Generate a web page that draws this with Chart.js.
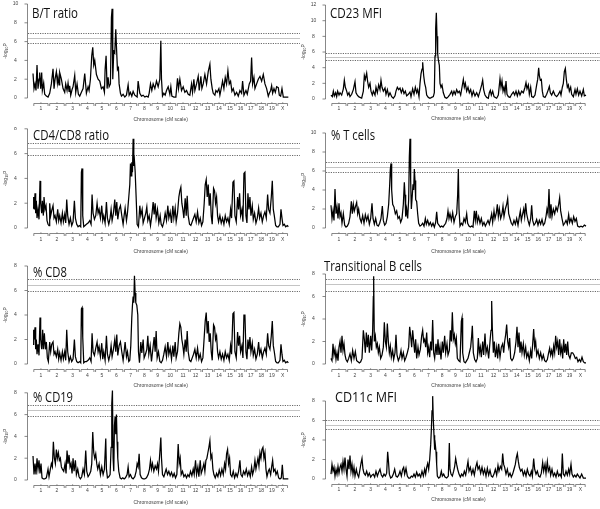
<!DOCTYPE html>
<html>
<head>
<meta charset="utf-8">
<script src="https://cdn.jsdelivr.net/npm/chart.js@4.4.0/dist/chart.umd.min.js"></script>
<style>
  body { margin: 0; background: #fff; width: 600px; height: 509px; position: relative; overflow: hidden; }
  canvas { position: absolute; }
</style>
</head>
<body>
<canvas id="c1" width="300" height="136" style="left:0;top:0"></canvas>
<canvas id="c2" width="300" height="136" style="left:300px;top:0"></canvas>
<canvas id="c3" width="300" height="136" style="left:0;top:127px"></canvas>
<canvas id="c4" width="300" height="136" style="left:300px;top:127px"></canvas>
<canvas id="c5" width="300" height="136" style="left:0;top:254px"></canvas>
<canvas id="c6" width="300" height="136" style="left:300px;top:254px"></canvas>
<canvas id="c7" width="300" height="136" style="left:0;top:381px"></canvas>
<canvas id="c8" width="300" height="136" style="left:300px;top:381px"></canvas>
<script>
// chromosomes and their lengths on the shared genome axis
const chromosomes = ['1','2','3','4','5','6','7','8','9','10','11','12','13','14','15','16','17','18','19','X'];
const chrLengths = [47.5,48.5,45.5,43.5,43.5,43,41.5,41,38.5,37.5,39,36.5,35,33.5,32,31,31.5,31.5,31.5,33.5];

// genome scans: [position, -log10 P]
const btRatio = [[0,2.6],[3,1.0],[6,1.5],[9,0.8],[12,3.5],[15,1.0],[18,2.0],[20,2.7],[23,1.0],[26,2.7],[28,0.8],[32,1.6],[35,0.4],[40,0.2],[45,0.1],[50,0.5],[55,1.5],[60,3.1],[63,1.0],[66,2.0],[70,2.8],[73,1.6],[75,2.2],[78,1.4],[80,2.7],[85,2.0],[90,1.0],[95,0.6],[98,1.5],[102,0.8],[105,1.6],[108,0.7],[110,1.3],[113,0.3],[117,0.9],[120,1.2],[125,2.4],[128,0.6],[132,1.5],[136,0.4],[140,0.2],[145,0.6],[150,1.0],[155,2.6],[160,0.5],[165,1.2],[168,0.8],[172,2.0],[176,4.5],[179,5.4],[182,3.5],[185,4.0],[190,2.5],[195,2.0],[200,1.8],[205,1.0],[210,1.2],[214,0.6],[216,3.0],[219,4.5],[222,1.0],[225,2.2],[228,1.2],[232,1.5],[235,8.6],[237,9.5],[239,2.0],[242,5.0],[245,4.8],[248,7.3],[250,5.5],[253,3.0],[256,3.2],[258,1.5],[262,0.5],[265,0.2],[270,0.4],[275,0.1],[280,0.3],[285,1.4],[288,0.3],[292,0.6],[296,0.2],[300,0.7],[305,0.3],[312,0.1],[315,1.8],[320,0.5],[325,0.2],[330,0.3],[335,0.1],[340,0.2],[345,0.1],[348,0.5],[352,1.5],[356,0.8],[360,1.5],[365,1.0],[370,1.8],[375,1.2],[380,2.0],[383,6.1],[385,2.0],[388,0.2],[392,0.5],[396,0.3],[400,0.8],[405,1.2],[410,0.4],[413,1.2],[416,0.2],[422,0.1],[428,0.1],[433,2.1],[436,1.0],[440,2.0],[445,0.8],[450,1.2],[455,0.6],[460,0.8],[465,0.4],[470,0.3],[475,1.5],[478,0.6],[482,2.0],[485,0.8],[490,1.5],[495,2.3],[498,0.8],[503,2.3],[506,1.0],[510,1.5],[515,2.5],[520,1.5],[525,2.8],[530,3.6],[533,2.0],[537,1.0],[540,0.5],[545,0.3],[548,0.8],[552,0.6],[557,1.0],[560,0.3],[565,1.2],[568,1.8],[572,1.0],[576,2.2],[580,1.5],[584,2.9],[588,1.5],[592,1.8],[596,0.7],[600,1.0],[605,0.3],[610,0.6],[615,0.2],[620,0.8],[625,0.5],[628,1.8],[632,0.3],[638,0.8],[642,0.4],[648,1.5],[652,1.8],[655,4.3],[658,1.5],[662,2.2],[665,1.0],[670,1.5],[675,2.0],[680,2.3],[685,1.8],[690,2.5],[695,1.5],[700,1.0],[705,0.2],[708,0.5],[712,0.8],[715,1.3],[718,0.5],[722,1.0],[726,0.6],[730,1.2],[735,1.1],[738,0.3],[742,0.2],[746,1.0],[750,0.1],[765,0.1]];

const cd23Mfi = [[0,0.5],[4,0.3],[7,1.0],[10,0.4],[14,0.8],[17,0.3],[20,1.0],[24,0.5],[27,0.8],[32,0.5],[37,1.3],[40,2.4],[43,1.5],[47,1.0],[50,0.5],[54,0.8],[57,0.3],[62,0.6],[67,1.2],[72,2.2],[75,0.8],[79,0.5],[83,0.3],[87,0.2],[92,0.1],[97,1.0],[100,3.0],[103,2.5],[107,3.3],[110,2.2],[113,1.5],[117,2.0],[120,1.0],[124,0.5],[127,1.0],[132,0.5],[135,1.5],[139,0.8],[143,1.8],[147,1.2],[150,2.4],[153,1.5],[157,1.0],[162,1.4],[165,0.6],[169,1.2],[173,0.4],[177,0.8],[182,0.3],[187,0.1],[192,0.4],[195,1.0],[199,1.5],[203,1.2],[207,1.4],[211,0.8],[215,1.3],[219,0.7],[223,1.0],[227,0.4],[232,0.6],[237,0.9],[240,0.3],[245,1.3],[249,0.6],[253,1.5],[257,0.8],[260,1.2],[264,0.3],[267,2.0],[270,3.2],[273,3.8],[275,4.7],[278,3.0],[281,2.0],[284,1.5],[287,0.5],[292,0.2],[297,0.1],[302,0.2],[307,0.3],[310,0.8],[312,5.5],[314,9.0],[316,11.0],[318,8.0],[320,5.8],[322,5.0],[325,4.3],[327,2.0],[330,1.5],[333,1.8],[337,0.8],[342,0.2],[347,0.1],[352,0.3],[357,0.6],[362,1.0],[365,0.5],[369,1.0],[373,0.6],[377,1.2],[381,0.8],[385,1.0],[389,0.5],[393,1.5],[397,2.5],[400,1.5],[403,2.0],[407,1.0],[411,1.5],[415,0.8],[419,1.2],[423,0.4],[427,1.0],[432,0.4],[437,0.8],[442,0.3],[447,1.0],[452,1.8],[455,2.4],[458,1.2],[462,0.5],[467,0.2],[472,0.1],[475,0.8],[478,1.1],[481,0.5],[485,1.0],[489,0.3],[493,0.2],[497,0.1],[502,0.5],[507,2.6],[510,1.5],[513,2.3],[516,1.0],[519,1.5],[522,0.8],[525,2.3],[528,0.6],[532,0.3],[537,0.2],[542,0.6],[547,0.9],[551,0.5],[555,1.0],[559,0.4],[563,1.0],[567,0.5],[572,1.0],[577,0.8],[582,1.5],[585,2.1],[588,1.3],[592,1.8],[595,0.6],[599,1.5],[602,0.3],[607,0.2],[612,0.5],[617,1.8],[620,2.5],[623,4.0],[625,3.0],[628,2.4],[631,2.5],[634,1.0],[637,0.3],[642,0.2],[647,0.6],[652,1.2],[655,1.6],[658,0.8],[662,0.5],[667,1.0],[672,0.5],[677,0.3],[682,0.6],[687,1.0],[690,0.5],[694,1.5],[697,2.0],[700,3.5],[703,3.9],[706,2.5],[709,1.5],[712,1.8],[715,1.0],[719,1.5],[722,0.6],[727,0.3],[732,1.2],[735,0.6],[739,1.3],[743,0.5],[747,1.0],[752,0.4],[757,1.2],[760,0.4],[765,0.5]];

const cd4cd8Ratio = [[0,1.6],[2,2.5],[4,1.5],[6,2.8],[8,1.2],[10,2.2],[12,0.8],[15,1.5],[18,0.7],[21,3.8],[23,2.0],[26,1.2],[28,2.2],[31,1.0],[33,2.5],[36,1.5],[39,1.8],[42,0.6],[45,0.3],[48,0.2],[50,2.0],[53,1.0],[56,1.4],[60,1.8],[63,0.8],[66,1.0],[70,0.5],[74,1.5],[77,0.6],[80,1.0],[84,0.4],[88,1.2],[91,0.5],[95,1.1],[98,0.4],[101,2.3],[104,1.0],[108,0.3],[112,0.8],[116,0.2],[120,0.5],[124,2.2],[127,0.8],[131,0.3],[135,0.1],[139,0.2],[143,0.1],[145,4.5],[147,4.8],[149,1.0],[152,0.1],[156,0.2],[160,0.3],[165,0.4],[170,0.6],[174,0.3],[177,2.7],[180,1.2],[184,0.7],[188,1.0],[192,2.0],[195,1.2],[198,1.5],[202,0.8],[206,1.8],[209,0.6],[212,1.0],[216,0.4],[220,2.1],[223,0.8],[227,0.3],[231,0.8],[234,1.5],[237,0.6],[241,1.2],[245,2.3],[248,1.0],[251,2.1],[254,0.7],[258,1.5],[262,1.8],[266,1.0],[270,0.3],[273,1.0],[276,1.6],[280,0.6],[283,1.2],[287,2.5],[290,3.5],[292,5.2],[294,4.2],[296,5.3],[298,4.5],[300,7.2],[302,5.0],[304,5.4],[306,4.6],[309,2.5],[312,0.3],[316,0.1],[320,1.8],[323,1.0],[327,1.5],[330,0.4],[334,0.8],[338,1.2],[341,1.7],[344,0.6],[348,1.0],[352,0.2],[356,1.0],[360,2.1],[363,1.1],[366,2.0],[369,0.8],[373,1.5],[377,0.4],[381,1.0],[384,0.3],[388,0.1],[392,0.5],[396,1.2],[400,0.6],[404,1.8],[407,0.8],[411,1.3],[415,0.4],[419,1.8],[422,0.8],[426,1.6],[429,0.5],[433,1.2],[437,2.5],[440,3.0],[443,3.3],[446,2.0],[449,1.5],[452,0.8],[456,2.4],[459,1.0],[462,2.6],[465,1.0],[469,0.3],[473,0.2],[477,0.5],[481,0.8],[485,1.1],[489,0.5],[493,1.3],[497,0.4],[501,0.8],[505,0.2],[509,0.5],[513,2.0],[516,3.5],[519,3.9],[522,2.5],[525,3.5],[528,1.8],[531,2.8],[534,1.0],[537,0.3],[541,3.2],[544,3.0],[547,2.0],[550,2.5],[553,1.0],[556,0.5],[560,1.0],[564,0.4],[568,0.8],[572,0.3],[576,1.0],[580,0.5],[584,0.8],[588,0.3],[592,1.5],[595,0.8],[599,3.7],[602,3.8],[605,1.0],[609,0.5],[613,2.5],[616,1.5],[619,2.8],[622,1.0],[626,1.5],[629,0.5],[632,4.4],[635,4.5],[638,1.0],[641,0.4],[644,2.8],[647,1.5],[650,2.5],[653,1.0],[657,1.8],[660,0.7],[664,1.2],[668,0.4],[672,0.8],[676,1.6],[679,0.8],[683,1.2],[687,0.5],[691,1.0],[695,1.3],[699,0.8],[703,2.7],[706,1.5],[710,1.2],[714,2.5],[717,3.8],[720,1.5],[723,1.0],[727,0.2],[731,0.1],[735,0.1],[740,0.3],[743,1.5],[746,0.8],[749,0.2],[753,0.3],[757,0.1],[762,0.2],[765,0.1]];

const tCells = [[0,2.4],[3,1.0],[6,1.8],[9,0.8],[12,4.1],[15,1.5],[18,2.2],[21,1.0],[24,2.6],[27,1.2],[30,1.6],[33,0.5],[37,1.5],[41,0.3],[45,0.1],[49,0.2],[53,0.5],[57,1.2],[61,2.8],[64,1.5],[67,2.5],[70,1.8],[73,2.2],[77,2.7],[80,1.5],[83,2.0],[87,1.0],[91,0.6],[95,1.3],[99,0.5],[103,1.4],[107,0.8],[111,1.3],[115,0.4],[119,1.0],[123,2.6],[126,1.0],[130,0.4],[134,1.0],[138,0.3],[142,0.2],[146,0.5],[150,1.0],[154,2.3],[157,0.8],[161,0.3],[165,0.5],[169,1.2],[173,2.5],[176,4.5],[178,6.2],[180,6.8],[182,4.0],[185,2.5],[189,2.2],[193,1.5],[197,1.8],[201,1.0],[205,1.2],[209,0.6],[213,1.0],[217,2.5],[220,4.8],[222,3.5],[224,1.2],[227,2.0],[230,1.0],[233,3.0],[235,7.5],[237,9.4],[239,5.0],[241,2.0],[244,3.5],[246,4.6],[248,4.0],[250,6.2],[252,5.0],[254,3.0],[257,2.8],[260,1.5],[263,0.5],[267,0.2],[271,0.3],[275,0.5],[279,0.2],[283,1.0],[286,0.4],[290,0.8],[294,0.3],[298,0.6],[302,0.2],[306,0.5],[310,0.1],[314,0.6],[317,1.7],[320,0.5],[324,0.3],[328,0.1],[332,0.2],[336,0.1],[340,0.3],[344,0.5],[348,1.0],[351,1.8],[354,1.0],[357,1.5],[361,0.8],[365,1.6],[369,0.6],[373,1.2],[377,1.5],[380,3.5],[382,6.2],[384,2.0],[387,0.2],[391,0.5],[395,0.3],[399,1.0],[403,0.6],[407,1.5],[410,0.5],[414,0.2],[418,0.1],[422,0.2],[426,0.1],[430,1.8],[433,0.8],[436,1.8],[439,0.6],[443,1.2],[447,0.5],[451,1.0],[455,0.3],[459,0.6],[463,0.2],[467,0.5],[471,0.8],[475,0.4],[479,1.0],[482,1.5],[485,0.6],[489,1.8],[492,1.0],[496,1.6],[499,2.5],[502,1.2],[505,2.0],[509,1.0],[513,1.5],[516,2.3],[519,1.2],[523,2.0],[527,2.5],[530,3.1],[533,1.5],[537,1.0],[541,0.5],[545,0.3],[549,0.8],[553,0.4],[557,1.0],[561,0.3],[565,1.2],[568,1.8],[571,0.8],[575,1.5],[578,2.0],[581,1.2],[584,2.6],[587,1.5],[591,0.8],[595,0.3],[599,1.0],[602,2.4],[605,0.8],[609,0.3],[613,0.5],[617,0.9],[621,0.3],[625,0.8],[629,0.4],[633,0.9],[637,0.3],[641,0.5],[645,1.2],[648,2.0],[651,1.5],[654,4.1],[657,1.0],[660,2.5],[663,1.2],[667,2.0],[671,1.5],[675,2.2],[679,1.8],[683,2.5],[686,3.2],[689,1.8],[693,1.0],[697,0.3],[701,0.5],[705,0.8],[709,0.4],[713,1.4],[716,0.6],[720,1.0],[724,0.5],[728,1.2],[732,0.7],[736,1.0],[740,0.2],[745,0.1],[750,0.2],[755,0.1],[760,0.3],[765,0.2]];

const cd8Pct = [[0,1.6],[2,2.8],[4,2.0],[6,3.0],[8,1.2],[10,2.0],[12,0.8],[15,1.6],[18,0.7],[21,3.8],[23,2.0],[26,1.2],[29,2.8],[31,1.2],[34,2.5],[37,1.2],[40,1.8],[43,0.5],[46,0.2],[50,1.8],[53,1.0],[56,1.6],[60,1.8],[63,0.8],[66,1.0],[70,0.6],[74,1.2],[77,0.4],[80,0.9],[84,0.3],[88,1.0],[91,0.4],[95,1.0],[98,0.3],[101,2.8],[104,1.0],[108,0.2],[112,0.6],[116,0.2],[120,0.4],[124,2.0],[127,0.6],[131,0.2],[135,0.1],[140,0.2],[143,0.1],[145,4.5],[147,4.6],[149,2.2],[152,0.1],[156,0.2],[160,0.2],[165,0.3],[170,0.5],[174,0.2],[177,2.5],[180,1.0],[184,0.7],[188,1.3],[192,1.8],[195,1.0],[198,1.4],[202,0.6],[206,1.7],[209,0.4],[212,1.0],[216,0.3],[220,2.3],[223,0.8],[227,0.3],[231,0.8],[234,1.5],[237,0.6],[241,1.2],[245,2.0],[248,1.0],[251,2.4],[254,0.7],[258,1.5],[262,1.8],[266,1.0],[270,0.3],[273,1.0],[276,1.8],[280,0.6],[283,1.0],[287,0.2],[290,0.3],[293,1.5],[296,3.8],[298,4.8],[300,5.5],[302,5.0],[304,7.2],[306,5.8],[308,5.0],[311,4.8],[314,4.0],[316,1.0],[319,0.1],[323,1.8],[326,0.9],[330,2.0],[333,0.5],[337,0.8],[341,1.2],[344,2.3],[347,0.8],[351,1.5],[355,0.2],[359,1.2],[363,2.2],[366,1.0],[369,2.7],[372,0.5],[376,1.0],[380,0.2],[384,0.1],[388,0.3],[392,0.8],[396,1.4],[400,0.6],[404,1.8],[407,0.8],[411,1.3],[415,0.4],[419,1.5],[422,0.6],[426,1.8],[429,0.5],[433,1.0],[437,2.5],[440,3.3],[443,3.0],[446,2.0],[449,1.5],[452,0.8],[456,2.0],[459,1.0],[462,2.7],[465,1.0],[469,0.3],[473,0.2],[477,0.5],[481,0.8],[485,1.2],[489,0.5],[493,1.3],[497,0.4],[501,0.8],[505,0.2],[509,0.5],[513,2.2],[516,3.5],[519,4.2],[522,2.5],[525,3.5],[528,1.8],[531,2.5],[534,1.0],[537,0.3],[541,3.2],[544,3.0],[547,2.0],[550,2.3],[553,1.0],[556,0.5],[560,1.0],[564,0.4],[568,0.8],[572,0.3],[576,1.0],[580,0.5],[584,0.8],[588,0.3],[592,1.5],[595,0.8],[599,4.1],[602,4.2],[605,1.0],[609,0.5],[613,2.6],[616,1.5],[619,2.3],[622,1.0],[626,1.5],[629,0.5],[632,4.0],[635,4.0],[638,1.0],[641,0.4],[644,2.0],[647,1.2],[650,2.2],[653,1.0],[657,1.7],[660,0.7],[664,1.2],[668,0.4],[672,0.8],[676,1.8],[679,0.8],[683,1.2],[687,0.5],[691,1.0],[695,1.3],[699,0.8],[703,2.5],[706,1.5],[710,1.2],[714,2.3],[717,3.5],[720,1.5],[723,1.0],[727,0.2],[731,0.1],[735,0.1],[740,0.3],[743,1.6],[746,0.8],[749,0.2],[753,0.3],[757,0.1],[762,0.2],[765,0.1]];

const transitionalB = [[0,0.5],[3,0.3],[6,1.8],[9,0.8],[12,1.3],[15,0.4],[18,1.0],[21,0.3],[24,1.5],[27,2.0],[30,1.0],[33,2.5],[36,1.2],[39,1.8],[42,0.8],[45,0.4],[49,0.2],[53,0.5],[57,0.9],[61,0.3],[65,1.2],[69,0.5],[73,1.1],[77,0.3],[81,0.2],[85,0.1],[89,0.2],[93,0.5],[97,3.0],[100,2.2],[103,1.0],[106,2.8],[109,1.5],[112,2.6],[115,1.0],[119,2.5],[122,1.2],[125,3.0],[127,6.0],[128,7.8],[130,2.0],[133,2.5],[136,1.5],[139,1.8],[142,1.0],[145,1.5],[149,0.5],[153,0.8],[157,1.5],[160,3.7],[163,2.0],[166,1.5],[169,3.6],[172,2.0],[175,1.0],[178,1.6],[181,0.6],[185,1.2],[188,0.4],[192,1.0],[195,2.6],[198,0.8],[202,0.3],[206,0.6],[210,1.2],[213,0.5],[217,1.0],[221,0.3],[225,0.6],[229,1.0],[233,1.5],[236,3.3],[239,2.5],[242,1.5],[245,3.0],[248,2.0],[251,1.0],[254,2.2],[257,0.5],[261,1.5],[264,0.8],[268,1.3],[272,2.5],[275,3.0],[278,2.0],[281,2.2],[284,1.5],[287,2.8],[290,1.0],[293,1.5],[296,0.6],[299,2.0],[302,1.2],[305,3.9],[308,1.0],[311,0.5],[315,1.8],[318,0.8],[321,2.2],[324,0.8],[327,1.5],[330,0.4],[334,2.0],[337,1.0],[341,2.5],[344,1.0],[348,1.8],[351,0.8],[355,1.2],[358,3.0],[361,2.0],[364,4.6],[367,2.2],[370,2.6],[373,1.8],[376,2.3],[379,0.5],[383,0.3],[387,0.2],[391,3.8],[393,4.1],[395,1.0],[399,0.2],[403,0.1],[407,0.3],[411,0.5],[415,1.0],[419,1.5],[422,2.5],[424,3.4],[427,1.0],[431,0.4],[435,0.2],[439,0.5],[442,2.3],[445,1.0],[448,1.5],[451,0.6],[455,2.0],[458,0.8],[462,2.7],[465,1.0],[469,1.5],[473,0.5],[477,2.0],[480,3.0],[482,5.6],[484,3.2],[487,1.0],[490,2.0],[493,0.6],[497,1.5],[500,0.5],[503,1.8],[507,0.6],[511,1.5],[515,1.8],[518,1.0],[521,2.0],[524,2.6],[527,3.5],[530,2.0],[533,1.5],[536,2.3],[539,0.5],[543,0.3],[547,0.5],[551,1.0],[555,2.0],[558,3.3],[561,1.5],[564,2.8],[567,1.0],[570,2.0],[573,1.0],[577,1.8],[580,0.8],[584,1.5],[587,0.6],[591,1.0],[595,0.3],[599,1.2],[602,0.5],[605,1.8],[608,3.1],[611,1.5],[614,2.0],[617,0.8],[621,1.2],[625,0.5],[629,1.0],[633,0.4],[637,0.8],[641,0.3],[645,0.2],[649,0.4],[653,1.0],[656,1.4],[659,0.8],[662,1.2],[665,0.7],[668,1.6],[671,1.0],[674,2.5],[677,1.5],[680,2.0],[683,0.8],[686,2.2],[689,1.0],[692,1.5],[695,0.5],[698,2.2],[701,1.0],[704,1.8],[707,0.8],[710,2.0],[713,0.8],[717,0.5],[721,1.0],[725,1.0],[729,0.8],[733,0.5],[737,0.6],[741,0.2],[745,0.4],[749,0.2],[753,0.6],[757,0.2],[761,0.1],[765,0.1]];

const cd19Pct = [[0,2.2],[3,0.5],[6,1.5],[9,0.5],[12,2.0],[15,1.0],[18,1.8],[21,0.6],[24,1.5],[27,0.2],[31,0.1],[35,0.1],[40,0.2],[45,1.0],[48,0.3],[52,1.0],[55,1.5],[58,1.2],[61,3.5],[64,2.0],[67,1.5],[70,2.8],[73,2.0],[76,2.5],[79,1.8],[82,2.0],[85,1.2],[88,1.0],[92,0.8],[96,1.5],[99,0.6],[102,2.7],[105,1.5],[108,2.3],[111,1.2],[114,1.5],[117,0.6],[120,2.0],[123,0.8],[127,1.8],[130,0.5],[134,1.0],[138,0.3],[142,0.1],[146,0.3],[150,1.0],[154,0.5],[158,2.7],[161,0.8],[165,0.3],[169,0.5],[173,0.8],[176,1.5],[179,4.4],[182,2.5],[185,2.0],[188,2.4],[191,1.5],[194,1.0],[198,1.5],[202,0.5],[206,1.2],[210,0.5],[214,1.0],[218,3.8],[220,1.0],[223,0.2],[227,0.3],[231,0.5],[234,3.0],[236,7.0],[238,8.2],[240,2.0],[242,0.8],[244,5.0],[246,5.8],[248,4.2],[250,6.0],[252,3.5],[254,2.0],[257,0.8],[261,0.2],[265,0.1],[269,0.2],[273,0.1],[277,0.2],[282,0.5],[285,1.2],[288,0.3],[292,0.5],[296,0.2],[300,0.1],[305,0.3],[309,0.8],[312,1.5],[315,1.2],[318,2.4],[321,0.5],[325,0.2],[330,0.1],[335,0.1],[340,0.2],[345,0.5],[349,1.0],[352,1.8],[355,1.0],[358,1.5],[362,0.8],[366,1.3],[370,1.0],[373,1.5],[376,0.8],[380,2.5],[383,3.9],[385,2.0],[388,0.5],[392,0.3],[395,0.6],[399,1.0],[403,0.5],[407,0.8],[411,0.4],[415,0.7],[419,0.3],[423,0.6],[427,0.2],[431,0.5],[435,3.3],[438,1.5],[441,2.0],[444,0.5],[448,0.8],[452,0.3],[456,0.5],[460,0.2],[464,0.5],[468,0.3],[472,0.8],[476,0.4],[480,1.0],[483,0.5],[487,1.8],[490,0.5],[494,1.2],[497,0.3],[501,1.8],[504,0.6],[508,1.0],[512,1.5],[515,0.8],[518,1.8],[521,2.0],[524,2.5],[527,3.0],[530,3.6],[533,2.0],[536,2.3],[539,1.0],[542,0.5],[546,0.2],[550,0.6],[554,0.3],[558,0.9],[562,0.4],[566,1.0],[570,0.5],[574,1.5],[577,1.0],[580,2.4],[583,2.8],[586,1.5],[589,2.0],[592,0.5],[596,0.3],[600,0.8],[604,0.2],[608,0.6],[612,0.3],[616,0.8],[620,1.8],[623,0.5],[627,0.3],[631,0.8],[635,0.5],[639,1.0],[643,0.4],[647,0.8],[651,0.3],[655,1.2],[658,0.5],[662,1.0],[665,1.8],[668,1.0],[671,1.5],[674,2.0],[677,1.3],[680,2.5],[683,2.0],[686,2.8],[689,3.0],[692,2.0],[695,2.5],[698,1.0],[701,0.3],[705,0.8],[708,1.0],[712,0.5],[715,1.2],[718,1.8],[721,0.8],[725,1.0],[728,0.5],[732,0.8],[736,0.2],[740,0.1],[744,0.2],[747,1.4],[750,0.1],[755,0.1],[760,0.1],[765,0.1]];

const cd11cMfi = [[0,0.5],[3,1.5],[6,0.8],[9,1.2],[12,0.3],[15,1.0],[18,0.5],[21,1.3],[24,0.6],[27,1.2],[30,1.5],[33,0.8],[36,1.8],[39,1.0],[42,2.2],[45,1.0],[48,0.3],[51,2.0],[54,1.0],[57,2.4],[60,0.8],[63,1.5],[66,0.5],[69,1.2],[72,0.3],[76,1.0],[79,0.5],[83,0.2],[87,1.0],[90,1.6],[93,2.1],[96,1.0],[99,0.6],[103,0.4],[107,0.8],[111,0.3],[115,0.6],[119,0.2],[123,0.4],[127,0.5],[131,0.2],[135,0.8],[139,0.3],[143,0.7],[147,1.0],[151,0.4],[155,0.2],[159,0.5],[163,0.3],[167,0.6],[170,2.8],[172,2.0],[175,0.5],[179,0.1],[183,0.2],[187,0.5],[191,1.0],[195,0.3],[199,0.2],[203,0.4],[207,0.8],[211,0.3],[215,1.0],[218,1.2],[221,0.5],[225,1.1],[229,0.3],[233,0.1],[237,0.1],[241,0.3],[245,0.2],[249,0.5],[253,0.2],[257,0.7],[261,0.3],[265,0.5],[269,0.2],[273,0.8],[277,0.3],[281,1.0],[284,0.5],[287,1.2],[290,1.6],[293,1.0],[296,2.0],[299,3.5],[301,5.0],[303,7.0],[305,8.5],[307,6.0],[309,4.5],[311,3.0],[313,3.5],[315,2.8],[317,1.5],[319,0.3],[323,0.1],[327,0.2],[331,0.8],[334,0.3],[338,0.5],[342,0.2],[347,0.1],[352,0.3],[355,3.7],[357,1.0],[360,0.5],[364,0.3],[368,0.8],[371,1.3],[374,2.1],[377,1.5],[380,1.0],[384,0.5],[388,0.2],[392,0.5],[396,0.3],[400,0.8],[404,0.4],[408,1.2],[411,1.8],[414,0.8],[418,1.2],[422,0.5],[426,1.0],[430,0.4],[434,1.2],[438,1.7],[441,1.0],[445,1.3],[449,0.6],[453,1.2],[457,0.5],[461,1.0],[465,0.3],[469,1.1],[473,0.4],[477,0.9],[481,0.3],[485,0.2],[489,0.5],[493,1.0],[497,0.4],[501,1.4],[504,0.8],[508,1.3],[512,1.0],[515,2.6],[518,1.5],[521,1.2],[525,0.5],[529,1.0],[533,0.3],[537,0.6],[541,0.2],[545,0.5],[549,1.0],[553,1.5],[556,2.2],[559,2.6],[562,1.8],[565,1.2],[569,0.8],[573,1.0],[577,0.4],[581,0.8],[585,0.3],[589,1.0],[593,0.5],[597,0.3],[601,0.8],[604,0.3],[608,2.1],[611,1.0],[615,0.5],[619,0.8],[623,0.3],[627,0.2],[631,0.6],[635,1.7],[638,0.8],[642,1.5],[645,0.6],[649,1.8],[652,0.8],[656,1.2],[659,0.4],[663,1.0],[667,0.3],[671,0.6],[675,0.2],[679,0.8],[683,0.3],[687,0.5],[691,0.2],[694,2.6],[697,0.5],[701,0.3],[705,0.8],[709,0.4],[713,1.0],[716,0.5],[720,1.5],[723,0.5],[727,0.2],[731,0.4],[735,0.2],[739,0.5],[743,0.3],[747,0.1],[752,0.5],[757,0.1],[765,0.1]];

// significance thresholds (upper dotted, middle, lower dotted)
const btThresholds = [6.9, 6.4, 5.9];
const cd23Thresholds = [5.83, 5.4, 4.97];
const cd4cd8Thresholds = [6.86, 6.43, 5.92];
const tCellThresholds = [6.92, 6.4, 5.87];
const cd8Thresholds = [6.97, 6.42, 5.93];
const transThresholds = [7.6, 7.1, 6.46];
const cd19Thresholds = [6.9, 6.4, 5.9];
const cd11cThresholds = [6.02, 5.55, 5.1];

// y tick labels
const ticks10 = [0, 2, 4, 6, 8, 10];
const ticks12 = [0, 2, 4, 6, 8, 10, 12];
const ticks8 = [0, 2, 4, 6, 8];

const smallFont = '5px "Liberation Sans", Arial, sans-serif';

const genomeAxis = {
    id: 'genomeAxis',
    beforeDatasetsDraw(chart, args, opts) {
        const { ctx, chartArea: a, scales: { y } } = chart;
        ctx.save();
        opts.thresholds.forEach((t, i) => {
            const py = Math.round(y.getPixelForValue(t)) + 0.5;
            ctx.strokeStyle = i === 1 ? '#c4c4c4' : '#444';
            ctx.lineWidth = i === 1 ? 1 : 0.8;
            ctx.setLineDash(i === 1 ? [] : [1.2, 1.2]);
            ctx.beginPath();
            ctx.moveTo(a.left + 1, py);
            ctx.lineTo(a.right, py);
            ctx.stroke();
        });
        ctx.restore();
    },
    afterDraw(chart, args, opts) {
        const { ctx, chartArea: a, scales: { x, y } } = chart;
        ctx.save();
        ctx.strokeStyle = '#555';
        ctx.fillStyle = '#444';
        ctx.lineWidth = 0.7;
        ctx.font = smallFont;

        // y axis
        const ax = Math.round(a.left) + 0.5;
        const top = opts.ticks[opts.ticks.length - 1];
        ctx.beginPath();
        ctx.moveTo(ax, y.getPixelForValue(0));
        ctx.lineTo(ax, y.getPixelForValue(top));
        ctx.stroke();
        ctx.textAlign = 'center';
        ctx.textBaseline = 'middle';
        opts.ticks.forEach(t => {
            const py = y.getPixelForValue(t);
            ctx.beginPath();
            ctx.moveTo(ax - 3, py);
            ctx.lineTo(ax, py);
            ctx.stroke();
            ctx.fillText(String(t), ax - 12, py);
        });

        // y axis title: -log10 P
        ctx.save();
        ctx.translate(ax - 22, (y.getPixelForValue(0) + y.getPixelForValue(top)) / 2);
        ctx.rotate(-Math.PI / 2);
        ctx.textAlign = 'left';
        const w1 = ctx.measureText('-log').width;
        ctx.font = '3.5px "Liberation Sans", Arial, sans-serif';
        const w2 = ctx.measureText('10').width;
        ctx.font = smallFont;
        const w3 = ctx.measureText('P').width;
        let sx = -(w1 + w2 + w3) / 2;
        ctx.fillText('-log', sx, 0);
        ctx.font = '3.5px "Liberation Sans", Arial, sans-serif';
        ctx.fillText('10', sx + w1, 1.5);
        ctx.font = smallFont;
        ctx.fillText('P', sx + w1 + w2, 0);
        ctx.restore();

        // chromosome brackets
        const by = opts.bracketY + 0.5;
        let start = 0;
        chromosomes.forEach((c, i) => {
            const end = start + chrLengths[i];
            const x0 = x.getPixelForValue(start) + 0.8;
            const x1 = x.getPixelForValue(end) - 0.8;
            const xm = x.getPixelForValue((start + end) / 2);
            ctx.beginPath();
            ctx.moveTo(x0, by + 2.5);
            ctx.lineTo(x0, by);
            ctx.lineTo(x1, by);
            ctx.lineTo(x1, by + 2.5);
            ctx.moveTo(xm, by);
            ctx.lineTo(xm, by - 1.2);
            ctx.stroke();
            ctx.fillText(c, xm, opts.labelY);
            start = end;
        });

        // x axis title
        ctx.fillText('Chromosome (cM scale)', x.getPixelForValue(start / 2), opts.xTitleY);

        // panel title, fitted to the width it takes in the figure
        ctx.fillStyle = '#111';
        ctx.font = '14px "Open Sans", sans-serif';
        ctx.textAlign = 'left';
        ctx.textBaseline = 'alphabetic';
        const tw = ctx.measureText(opts.title).width;
        ctx.translate(opts.titleX, opts.titleBase);
        ctx.scale(opts.titleWidth / tw, 1);
        ctx.fillText(opts.title, 0, 0);
        ctx.restore();
    }
};

// layout of each panel (pixels within its canvas)
const panels = [
    { id: 'c1', title: 'B/T ratio', data: btRatio, thresholds: btThresholds, ticks: ticks10,
      left: 27, xMin: -18, xMax: 800, zeroY: 98, pxPerUnit: 9.4, bracketY: 103, labelY: 109, xTitleY: 119.5,
      titleX: 32, titleBase: 18, titleWidth: 46 },
    { id: 'c2', title: 'CD23 MFI', data: cd23Mfi, thresholds: cd23Thresholds, ticks: ticks12,
      left: 25, xMin: -18, xMax: 807, zeroY: 99, pxPerUnit: 7.83, bracketY: 103, labelY: 109, xTitleY: 118.5,
      titleX: 30, titleBase: 18, titleWidth: 52 },
    { id: 'c3', title: 'CD4/CD8 ratio', data: cd4cd8Ratio, thresholds: cd4cd8Thresholds, ticks: ticks8,
      left: 27, xMin: -18, xMax: 800, zeroY: 101, pxPerUnit: 12.4, bracketY: 106, labelY: 113, xTitleY: 125,
      titleX: 33, titleBase: 13, titleWidth: 76 },
    { id: 'c4', title: '% T cells', data: tCells, thresholds: tCellThresholds, ticks: ticks10,
      left: 25, xMin: -18, xMax: 807, zeroY: 101, pxPerUnit: 9.5, bracketY: 106, labelY: 113, xTitleY: 125,
      titleX: 31, titleBase: 13, titleWidth: 44 },
    { id: 'c5', title: '% CD8', data: cd8Pct, thresholds: cd8Thresholds, ticks: ticks8,
      left: 27, xMin: -18, xMax: 800, zeroY: 110, pxPerUnit: 12.25, bracketY: 115, labelY: 122, xTitleY: 132,
      titleX: 33, titleBase: 23, titleWidth: 34 },
    { id: 'c6', title: 'Transitional B cells', data: transitionalB, thresholds: transThresholds, ticks: ticks8,
      left: 25, xMin: -18, xMax: 807, zeroY: 110, pxPerUnit: 11.25, bracketY: 115, labelY: 122, xTitleY: 132,
      titleX: 24, titleBase: 16.5, titleWidth: 98 },
    { id: 'c7', title: '% CD19', data: cd19Pct, thresholds: cd19Thresholds, ticks: ticks8,
      left: 27, xMin: -18, xMax: 800, zeroY: 99, pxPerUnit: 10.9, bracketY: 104, labelY: 109.5, xTitleY: 122,
      titleX: 33, titleBase: 20.5, titleWidth: 40 },
    { id: 'c8', title: 'CD11c MFI', data: cd11cMfi, thresholds: cd11cThresholds, ticks: ticks8,
      left: 25, xMin: -18, xMax: 807, zeroY: 98, pxPerUnit: 9.75, bracketY: 103, labelY: 109, xTitleY: 119,
      titleX: 35, titleBase: 20.5, titleWidth: 62 }
];

panels.forEach(p => {
    const canvas = document.getElementById(p.id);
    new Chart(canvas.getContext('2d'), {
        type: 'line',
        data: {
            datasets: [{
                data: p.data.map(([pos, v]) => ({ x: pos, y: v })),
                borderColor: '#000',
                borderWidth: 1.25,
                borderJoinStyle: 'miter',
                pointRadius: 0,
                tension: 0,
                fill: false
            }]
        },
        options: {
            responsive: false,
            animation: false,
            events: [],
            layout: { padding: { left: p.left, right: 0, top: 0, bottom: canvas.height - (p.zeroY + 3) } },
            plugins: {
                legend: { display: false },
                tooltip: { enabled: false },
                genomeAxis: p
            },
            scales: {
                x: { type: 'linear', min: p.xMin, max: p.xMax, display: false },
                y: { min: -3 / p.pxPerUnit, max: p.zeroY / p.pxPerUnit, display: false }
            }
        },
        plugins: [genomeAxis]
    });
});
</script>
</body>
</html>
